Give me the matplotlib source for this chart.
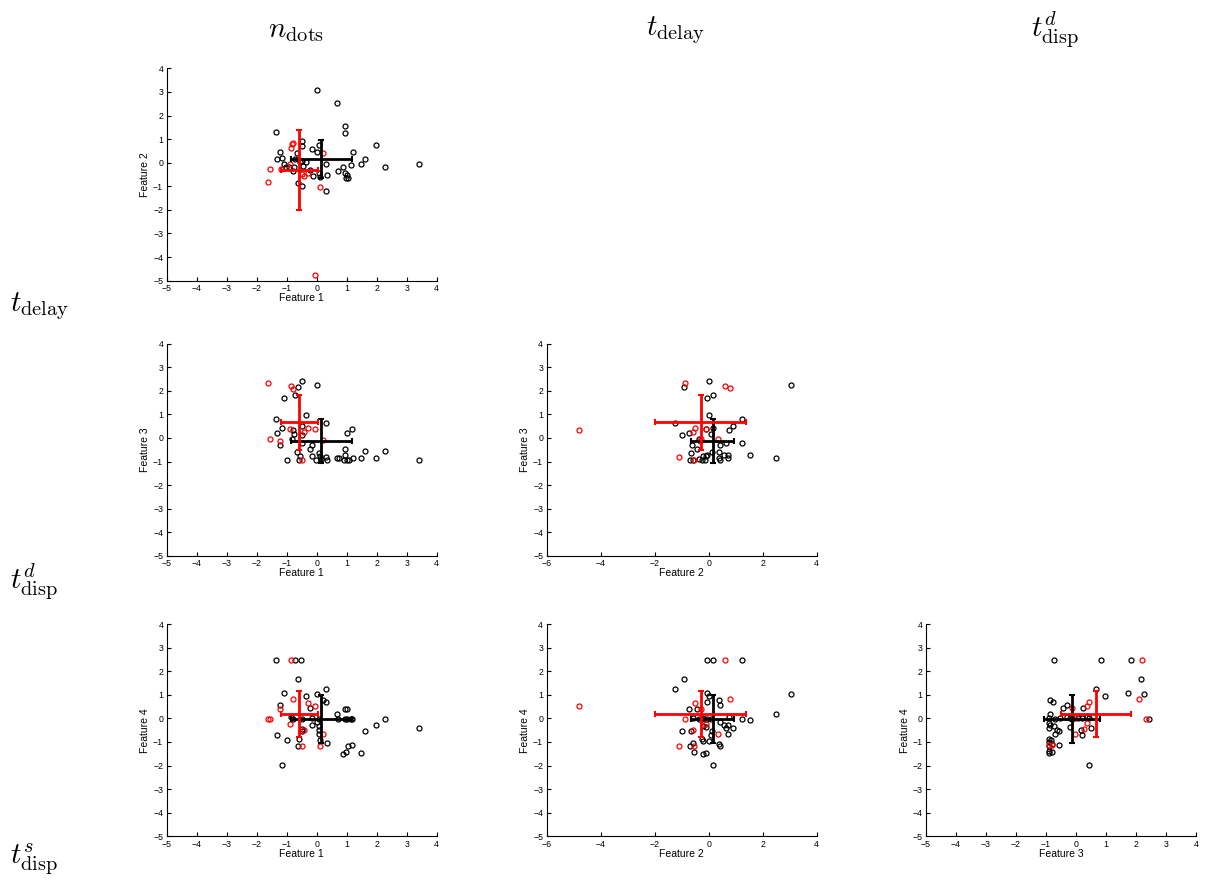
# Pairwise feature scatter: black = class 0, red = class 1, bars = mean +/- std
import matplotlib
matplotlib.use("Agg")
from matplotlib import pyplot as plt

plt.rcParams["mathtext.fontset"] = "cm"
plt.rcParams["font.family"] = ["Liberation Sans", "DejaVu Sans"]

col_titles = [r"$n_{\rm dots}$", r"$t_{\rm delay}$", r"$t^{d}_{\rm disp}$"]
row_titles = [r"$t_{\rm delay}$", r"$t^{d}_{\rm disp}$", r"$t^{s}_{\rm disp}$"]

# group mean / std per feature (Feature 1..4)
mean_black = [0.15, 0.15, -0.13, -0.03]
std_black = [1.02, 0.80, 0.93, 1.02]
mean_red = [-0.58, -0.30, 0.67, 0.18]
std_red = [0.62, 1.70, 1.17, 0.98]

# ---- Feature 1 vs Feature 2
f12_black_x = [0.0, 0.67, 0.94, 0.93, -1.34, -0.49, -0.49, 0.07, -0.14, 0.0, -1.21, -0.66, 1.2,
               1.97, 1.61, -1.31, -1.17, -1.09, -0.93, -1.02, -0.76, -0.8, -0.71, -0.56, -0.37,
               -0.48, -0.46, -0.21, -0.13, 0.1, 0.31, 0.36, 0.71, 0.88, 0.93, 1.0, 1.04, 0.98,
               1.16, 1.47, 2.29, 3.41, -0.63, -0.49, 0.31, 0.08]
f12_black_y = [3.1, 2.54, 1.57, 1.27, 1.3, 0.93, 0.69, 0.73, 0.59, 0.45, 0.45, 0.42, 0.44,
               0.73, 0.16, 0.14, 0.18, -0.04, -0.2, -0.2, -0.2, -0.35, 0.17, 0.03, 0.04,
               0.06, -0.16, -0.3, -0.58, -0.59, -0.04, -0.54, -0.37, -0.17, -0.44, -0.52, -0.66, -0.66,
               -0.08, -0.07, -0.17, -0.07, -0.88, -0.97, -1.2, -0.42]
f12_red_x = [-1.54, -1.61, -0.83, -0.78, -0.86, -0.9, -1.2, -0.5, -0.41, -0.3, 0.12, 0.21, -0.06]
f12_red_y = [-0.25, -0.83, 0.79, 0.82, 0.64, -0.07, -0.25, -0.48, -0.55, -0.45, -1.03, 0.4, -4.77]

# ---- Feature 1 vs Feature 3
f13_black_x = [-0.49, -0.63, 0.0, -1.08, -0.71, -0.36, -1.34, 0.3, -0.49, -1.17, -0.8, -0.77,
               -0.49, -1.31, 1.17, 1.0, -0.81, -0.5, -1.21, -0.16, -0.21, -0.64, 0.07, -0.54,
               -0.14, 0.11, -1.0, -0.58, -0.01, 0.14, 0.3, 0.36, 0.67, 0.74, 0.93, 0.93, 0.9,
               1.0, 1.09, 1.2, 1.47, 1.61, 1.97, 2.28, 3.4]
f13_black_y = [2.43, 2.16, 2.26, 1.71, 1.81, 0.97, 0.8, 0.64, 0.49, 0.42, 0.32, 0.17,
               0.14, 0.2, 0.4, 0.23, -0.06, -0.21, -0.31, -0.31, -0.48, -0.58, -0.64, -0.76,
               -0.76, -0.76, -0.93, -0.93, -0.93, -0.89, -0.8, -0.93, -0.86, -0.86, -0.48, -0.73, -0.93,
               -0.93, -0.93, -0.85, -0.83, -0.56, -0.85, -0.54, -0.93]
f13_red_x = [-1.61, -0.86, -0.78, -1.54, -1.21, -0.9, -0.41, -0.3, -0.06, 0.21, -0.48]
f13_red_y = [2.33, 2.2, 2.09, -0.06, -0.14, 0.37, 0.25, 0.42, 0.37, -0.07, -0.93]

# ---- Feature 2 vs Feature 3
f23_black_x = [0.01, -0.9, 3.07, -0.07, 0.15, 0.0, 1.25, -1.23, 0.89, 0.74, 0.15, -0.11, -0.72,
               -0.99, 0.09, -0.37, -0.6, 0.41, 0.65, 1.22, -0.43, 0.12, 0.4, -0.65, -0.11, -0.07,
               -0.2, 1.53, 0.72, 0.56, 0.4, 0.72, -0.68, -0.56, -0.37, -0.26, -0.14, 0.42, 2.49]
f23_black_y = [2.43, 2.16, 2.26, 1.71, 1.81, 0.97, 0.8, 0.64, 0.49, 0.32, 0.42, 0.4, 0.23,
               0.14, 0.17, -0.06, -0.31, -0.31, -0.21, -0.21, -0.48, -0.58, -0.58, -0.62, -0.78, -0.73,
               -0.78, -0.73, -0.73, -0.73, -0.85, -0.85, -0.93, -0.93, -0.88, -0.93, -0.93, -0.93, -0.86]
f23_red_x = [-4.81, -0.86, 0.6, 0.78, -1.09, -0.49, -0.57, -0.11, -0.28, 0.36, -0.32, -0.53]
f23_red_y = [0.35, 2.33, 2.2, 2.1, -0.82, 0.44, 0.25, 0.37, -0.06, -0.06, -0.14, -0.92]

# ---- Feature 1 vs Feature 4
f14_black_x = [-1.34, -0.72, -0.53, -0.63, 0.31, -1.08, 0.0, -0.37, 0.2, 0.31, -1.22, -0.21,
               0.93, 1.02, 0.67, -0.87, -0.78, -0.49, -0.14, 0.0, 0.08, 0.71, 0.93, 1.0, 1.13,
               1.18, 2.28, 1.97, -0.14, 0.07, -0.49, -0.49, 0.07, -1.31, 0.07, 1.61, -1.0, -0.58,
               0.11, 0.36, -0.63, 1.19, 1.06, 0.98, 0.88, 1.47, -1.17, 3.4]
f14_black_y = [2.48, 2.48, 2.48, 1.67, 1.23, 1.06, 1.03, 0.93, 0.76, 0.69, 0.57, 0.44,
               0.42, 0.42, 0.18, 0.04, -0.01, -0.01, 0.03, -0.16, -0.04, -0.04, -0.04, -0.04, -0.04,
               -0.01, -0.01, -0.27, -0.3, -0.34, -0.44, -0.54, -0.51, -0.69, -0.68, -0.54, -0.92, -0.86,
               -0.92, -1.05, -1.15, -1.12, -1.19, -1.42, -1.53, -1.47, -1.98, -0.41]
f14_red_x = [-0.86, -1.61, -1.54, -1.21, -0.78, -0.3, -0.06, -0.9, -0.41, -0.49, 0.12, 0.21]
f14_red_y = [2.48, -0.03, -0.03, 0.42, 0.84, 0.67, 0.54, -0.23, -0.48, -1.15, -1.15, -0.65]

# ---- Feature 2 vs Feature 4
f24_black_x = [-0.07, 0.15, 1.25, -0.9, -1.23, -0.07, 0.0, 0.4, 0.42, -0.07, -0.72, -0.43,
               3.07, 2.49, 0.74, -0.59, -0.26, -0.2, -0.07, 0.09, 1.22, 1.53, 0.42, 0.56, 0.72,
               0.65, 0.89, -0.11, -0.19, -0.99, -0.65, 0.12, 0.09, 0.72, -0.25, -0.22, 0.01, 0.4,
               0.42, -0.57, -0.68, -0.54, -0.11, -0.21, 0.15, -0.37]
f24_black_y = [2.48, 2.48, 2.48, 1.67, 1.23, 1.06, 0.93, 0.76, 0.57, 0.69, 0.42, 0.42,
               1.03, 0.18, 0.06, 0.03, -0.01, 0.03, -0.01, -0.01, -0.04, -0.08, -0.16, -0.3, -0.27,
               -0.41, -0.41, -0.38, -0.34, -0.52, -0.52, -0.52, -0.69, -0.68, -0.89, -0.95, -0.96, -1.1,
               -1.15, -1.05, -1.19, -1.42, -1.47, -1.53, -1.98, -0.01]
f24_red_x = [-4.81, 0.6, 0.78, -0.49, -0.28, -0.86, -0.11, -0.57, 0.36, -1.09, -0.53]
f24_red_y = [0.52, 2.48, 0.82, 0.65, 0.42, -0.03, -0.23, -0.48, -0.65, -1.15, -1.15]

# ---- Feature 3 vs Feature 4
f34_black_x = [-0.74, 0.82, 1.82, 2.18, 1.72, 2.28, 0.67, 0.98, -0.86, -0.78, -0.3, -0.44,
               0.24, -0.86, -0.9, -0.71, -0.52, -0.31, -0.19, -0.14, 0.06, 0.19, 0.38, 0.44,
               2.43, -0.91, -0.86, -0.74, -0.63, -0.58, -0.71, -0.91, -0.21, 0.5, 0.16, 0.2,
               -0.91, -0.83, -0.91, -0.81, -0.91, -0.56, -0.91, -0.91, -0.81, 0.44]
f34_black_y = [2.49, 2.49, 2.49, 1.68, 1.07, 1.05, 1.24, 0.95, 0.78, 0.71, 0.58, 0.44,
               0.44, 0.2, 0.0, -0.04, 0.0, 0.04, 0.0, -0.04, 0.0, 0.0, 0.04, 0.0,
               -0.03, -0.18, -0.28, -0.32, -0.49, -0.54, -0.66, -0.4, -0.38, -0.4, -0.49, -0.71,
               -0.88, -0.93, -1.0, -1.1, -1.16, -1.14, -1.37, -1.47, -1.44, -1.96]
f34_red_x = [2.2, 2.11, 2.33, 0.44, 0.38, -0.14, -0.03, 0.38, 0.28, -0.02, -0.91, -0.81]
f34_red_y = [2.49, 0.83, -0.03, 0.68, 0.54, 0.44, -0.64, -0.21, -0.47, 0.0, -1.13, -1.13]

panels = [
    # (row, col, fx, fy, bx, by, rx, ry)
    (0, 0, 0, 1, f12_black_x, f12_black_y, f12_red_x, f12_red_y),
    (1, 0, 0, 2, f13_black_x, f13_black_y, f13_red_x, f13_red_y),
    (1, 1, 1, 2, f23_black_x, f23_black_y, f23_red_x, f23_red_y),
    (2, 0, 0, 3, f14_black_x, f14_black_y, f14_red_x, f14_red_y),
    (2, 1, 1, 3, f24_black_x, f24_black_y, f24_red_x, f24_red_y),
    (2, 2, 2, 3, f34_black_x, f34_black_y, f34_red_x, f34_red_y),
]

fig = plt.figure(figsize=(12.08, 8.88), dpi=100)

col_left = [0.138, 0.4525, 0.7666]
row_bottom = [0.684, 0.374, 0.0582]
ax_w, ax_h = 0.2235, 0.239

for row, col, fx, fy, bx, by, rx, ry in panels:
    ax = fig.add_axes([col_left[col], row_bottom[row], ax_w, ax_h])
    ax.plot(bx, by, "o", mfc="none", mec="k", ms=3.6, mew=0.9)
    ax.plot(rx, ry, "o", mfc="none", mec="r", ms=3.6, mew=0.9)
    ax.errorbar(mean_black[fx], mean_black[fy], xerr=std_black[fx], yerr=std_black[fy],
                color="k", lw=2, capsize=2.2, capthick=1.5)
    ax.errorbar(mean_red[fx], mean_red[fy], xerr=std_red[fx], yerr=std_red[fy],
                color="r", lw=2, capsize=2.2, capthick=1.5)
    if fx == 1:
        ax.set_xlim(-6, 4)
        ax.set_xticks(range(-6, 5, 2))
    else:
        ax.set_xlim(-5, 4)
        ax.set_xticks(range(-5, 5))
    ax.set_ylim(-5, 4)
    ax.set_yticks(range(-5, 5))
    ax.spines["top"].set_visible(False)
    ax.spines["right"].set_visible(False)
    ax.tick_params(direction="in", length=3, width=0.8, labelsize=6.3)
    ax.tick_params(axis="x", pad=2.5)
    ax.tick_params(axis="y", pad=2.5)
    ax.set_xlabel(f"Feature {fx + 1}", fontsize=7.5, labelpad=0)
    ax.set_ylabel(f"Feature {fy + 1}", fontsize=7.5, labelpad=2)

for i, t in enumerate(col_titles):
    fig.text(col_left[i] + ax_w / 2 - 0.005, 0.966, t, fontsize=21, ha="center", va="center")
for i, t in enumerate(row_titles):
    fig.text(0.008, [0.655, 0.345, 0.032][i], t, fontsize=21, ha="left", va="center")

fig.savefig("out.png", dpi=100)
